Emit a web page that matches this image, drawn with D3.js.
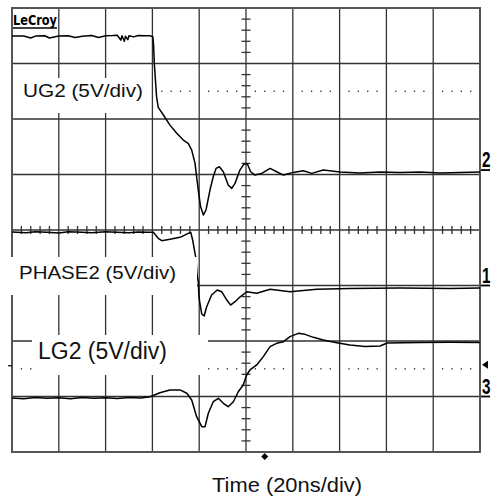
<!DOCTYPE html>
<html>
<head>
<meta charset="utf-8">
<script src="https://cdn.jsdelivr.net/npm/d3@7"></script>
<style>
  html, body { margin: 0; padding: 0; background: #fff; }
  svg { display: block; }
</style>
</head>
<body>
<div id="scope"></div>
<script>
// channel data: time in ns (20ns/div), voltage in V (5V/div)
const ug2Time = [-100, -95, -92, -90, -86, -84, -80, -76, -73, -70, -66, -63, -60, -57, -55, -53.5, -53, -52, -51.5, -50.5, -50, -48, -46, -43, -41, -39.8,
  -39.5, -39.2, -38.2, -37.5, -35.3, -32.5, -29.6, -26.8, -24.7, -23.2, -21.8, -21.1, -20.4, -19.4, -18.2, -17.1, -15.4, -14.0, -12.8, -11.4,
  -9.7, -7.6, -6.1, -4.7, -2.6, -0.9, 0.6, 2.0, 3.8, 6.7, 10.3, 13.1, 16.0, 20.2, 24.5, 28.1, 33.0, 40.2, 48.7, 57.3, 65.8, 74.4, 82.9, 91.5, 100];
const ug2Volt = [12.07, 12.07, 11.9, 12.07, 12.1, 11.9, 12.07, 12.1, 11.95, 12.05, 12.12, 11.95, 12.1, 12.12, 12.15, 11.7, 12.1, 11.6, 12.05, 11.75, 12.1, 12.0, 12.12, 12.1, 12.1, 12.0,
  11.26, 9.64, 6.58, 5.65, 4.96, 4.05, 3.31, 2.70, 2.41, 1.80, 0.63, -0.60, -1.80, -3.31, -4.05, -3.60, -1.80, -0.60, 0.15, 0.30,
  -0.15, -1.35, -1.65, -1.20, 0, 0.54, 0.54, -0.15, -0.45, -0.30, 0.15, -0.15, -0.45, -0.21, -0.06, -0.30, 0, -0.18, -0.27, -0.18, -0.23, -0.18, -0.27, -0.23, -0.18];

const phaseTime = [-100, -94, -90, -85, -80, -76, -70, -66, -60, -55, -50, -46, -42, -39.6, -37.5, -36.0, -32.5, -28.2, -24.7, -23.6, -22.8, -21.8, -21.4, -20.9,
  -20.4, -20.1, -19.7, -18.9, -17.9, -16.8, -14.7, -12.3, -10.4, -8.2, -6.6, -4.7, -2.6, 0.3, 4.6, 10.3, 18.8, 30.2, 44.4, 65.8, 87.2, 100];
const phaseVolt = [4.82, 4.75, 4.85, 4.8, 4.72, 4.85, 4.8, 4.75, 4.85, 4.8, 4.75, 4.82, 4.8, 4.79, 4.25, 4.04, 4.16, 4.34, 4.70, 4.79, 4.10, 2.90, 2.48, 0.95,
  0.32, -1.01, -1.58, -2.57, -2.75, -1.91, -0.86, -0.41, -0.56, -1.31, -1.76, -1.46, -1.04, -0.56, -0.70, -0.34, -0.56, -0.34, -0.27, -0.23, -0.27, -0.23];

const lg2Time = [-100, -95, -90, -85, -80, -75, -70, -65, -60, -55, -50, -45, -41.0, -36.8, -32.5, -28.2, -25.3, -23.2, -21.1, -18.9, -17.5, -16.1, -14.0,
  -11.8, -9.7, -7.6, -5.4, -3.3, -1.2, 0.3, 1.7, 4.6, 7.4, 10.3, 13.1, 16.0, 18.8, 22.4, 25.2, 28.8, 33.0, 38.8, 44.4, 50.9, 57.3, 60.3, 74.4, 87.2, 100];
const lg2Volt = [-0.14, -0.2, -0.1, -0.16, -0.12, -0.2, -0.1, -0.16, -0.12, -0.18, -0.1, -0.14, -0.02, 0.34, 0.59, 0.59, 0.29, -0.32, -1.82, -2.72, -2.72, -1.51, -0.47,
  -0.16, -0.61, -0.92, -0.47, 0.43, 1.04, 1.94, 2.39, 2.84, 3.59, 4.49, 4.79, 4.94, 5.39, 5.69, 5.60, 5.33, 5.09, 4.85, 4.64, 4.50, 4.55, 4.82, 4.87, 4.88, 4.87];

// ground offsets in divisions, channel labels, marker digits
const channelNames = ['UG2 (5V/div)', 'PHASE2 (5V/div)', 'LG2 (5V/div)'];
const channelDigits = ['2', '1', '3'];
const channelOffsets = [1.08, -1, -3];
const cursorLevels = [2.5, -2.5];
const timeLabel = 'Time (20ns/div)';

const w = 495, h = 497;
const x = d3.scaleLinear().domain([-100, 100]).range([12, 480]);
const y = d3.scaleLinear().domain([-4, 4]).range([452, 8]);

const svg = d3.select('#scope').append('svg').attr('width', w).attr('height', h)
  .style('font-family', '"Liberation Sans", Arial, sans-serif');

// graticule
const grid = svg.append('g').attr('stroke', '#333').attr('stroke-width', 1.3);
grid.selectAll('.vl').data(d3.range(-80, 81, 20)).enter().append('line')
  .attr('x1', d => x(d)).attr('x2', d => x(d)).attr('y1', y(4)).attr('y2', y(-4));
grid.selectAll('.hl').data(d3.range(-3, 4, 1)).enter().append('line')
  .attr('y1', d => y(d)).attr('y2', d => y(d)).attr('x1', x(-100)).attr('x2', x(100));

// minor ticks on centre axes
grid.selectAll('.tx').data(d3.range(-96, 97, 4).filter(d => d % 20 !== 0)).enter().append('line')
  .attr('x1', d => x(d)).attr('x2', d => x(d)).attr('y1', y(0) - 4).attr('y2', y(0) + 4);
grid.selectAll('.ty').data(d3.range(-19, 20, 1).filter(d => d % 5 !== 0)).enter().append('line')
  .attr('y1', d => y(d / 5)).attr('y2', d => y(d / 5)).attr('x1', x(0) - 4.5).attr('x2', x(0) + 4.5);

// cursor dots
const dotT = d3.range(-96, 97, 4).filter(d => d % 20 !== 0);
cursorLevels.forEach(lv => {
  svg.append('g').selectAll('rect').data(dotT).enter().append('rect')
    .attr('x', d => x(d) - 0.6).attr('y', y(lv) - 0.6).attr('width', 1.3).attr('height', 1.3).attr('fill', '#222');
});

// border
svg.append('rect').attr('x', x(-100)).attr('y', y(4)).attr('width', x(100) - x(-100)).attr('height', y(-4) - y(4))
  .attr('fill', 'none').attr('stroke', '#555').attr('stroke-width', 2);

// traces
const traces = [[ug2Time, ug2Volt], [phaseTime, phaseVolt], [lg2Time, lg2Volt]];
traces.forEach((tr, i) => {
  const pts = tr[0].map((t, k) => [t, tr[1][k]]);
  const line = d3.line().x(d => x(d[0])).y(d => y(channelOffsets[i] + d[1] / 5));
  svg.append('path').datum(pts).attr('d', line).attr('fill', 'none')
    .attr('stroke', '#000').attr('stroke-width', 1.5).attr('stroke-linejoin', 'round');
});

// label boxes
const boxes = [
  {x: 14, y: 78, w: 136, h: 35, tx: 23, ty: 97, size: 19, len: 120},
  {x: 11, y: 257, w: 186, h: 38, tx: 19, ty: 279, size: 19, len: 157},
  {x: 32, y: 335, w: 176, h: 40, tx: 38, ty: 359, size: 23, len: 129}
];
boxes.forEach((b, i) => {
  svg.append('rect').attr('x', b.x).attr('y', b.y).attr('width', b.w).attr('height', b.h).attr('fill', '#fff');
  svg.append('text').attr('x', b.tx).attr('y', b.ty).attr('font-size', b.size)
    .attr('textLength', b.len).attr('lengthAdjust', 'spacingAndGlyphs').attr('fill', '#111')
    .text(channelNames[i]);
});

// channel ground markers on the right edge
channelOffsets.forEach((o, i) => {
  const gy = y(o);
  svg.append('line').attr('x1', 481).attr('x2', 490).attr('y1', gy).attr('y2', gy)
    .attr('stroke', '#000').attr('stroke-width', 1.8);
  svg.append('text').attr('x', 482).attr('y', gy - 3).attr('font-size', 22).attr('font-weight', 'bold')
    .attr('textLength', 8.5).attr('lengthAdjust', 'spacingAndGlyphs').attr('fill', '#000')
    .text(channelDigits[i]);
});

// LG2 level arrow and left tick
const ay = y(-2.5) - 4;
svg.append('path').attr('d', `M${482},${ay} L${488},${ay - 4} L${488},${ay + 4} Z`).attr('fill', '#000');
svg.append('line').attr('x1', 8).attr('x2', 12).attr('y1', ay + 1).attr('y2', ay + 1).attr('stroke', '#000').attr('stroke-width', 1.2);

// trigger position marker
const tx = x(8);
svg.append('path').attr('d', `M${tx},${453} L${tx + 3.5},${456.5} L${tx},${460} L${tx - 3.5},${456.5} Z`).attr('fill', '#000');

// LeCroy logo
svg.append('text').attr('x', 13).attr('y', 25).attr('font-size', 14).attr('font-weight', 'bold')
  .attr('font-family', '"Liberation Sans Narrow", "DejaVu Sans Condensed", sans-serif')
  .attr('textLength', 44).attr('lengthAdjust', 'spacingAndGlyphs').text('LeCroy');
svg.append('line').attr('x1', 13).attr('x2', 57).attr('y1', 28).attr('y2', 28).attr('stroke', '#000').attr('stroke-width', 1.5);

// time axis label
svg.append('text').attr('x', 212).attr('y', 492).attr('font-size', 19.5).attr('fill', '#111')
  .attr('textLength', 150).attr('lengthAdjust', 'spacingAndGlyphs')
  .text(timeLabel);
</script>
</body>
</html>
